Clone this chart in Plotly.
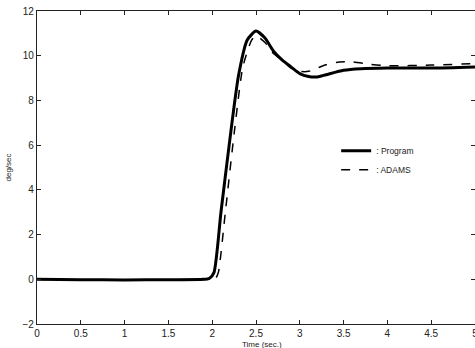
import plotly.graph_objects as go

# Program (solid)
t_prog = [0, 0.5, 1.0, 1.5, 1.9, 1.97, 2.02, 2.1, 2.2, 2.3, 2.4, 2.5, 2.6, 2.7, 2.8, 2.9,
          3.0, 3.1, 3.2, 3.3, 3.5, 3.7, 4.0, 4.5, 5.0]
y_prog = [0, -0.02, -0.03, -0.02, 0, 0.05, 0.3, 3.0, 6.2, 9.1, 10.7, 11.1, 10.8, 10.2, 9.8, 9.5,
          9.2, 9.07, 9.05, 9.15, 9.35, 9.42, 9.45, 9.45, 9.5]

# ADAMS (dashed)
t_adams = [0, 0.5, 1.0, 1.5, 2.0, 2.04, 2.07, 2.15, 2.25, 2.35, 2.45, 2.5, 2.6, 2.7, 2.8, 2.9,
           3.0, 3.1, 3.2, 3.3, 3.45, 3.6, 3.8, 4.0, 4.5, 5.0]
y_adams = [0, -0.02, -0.03, -0.02, 0, 0.05, 0.3, 3.0, 6.5, 9.5, 10.7, 10.9, 10.6, 10.1, 9.8, 9.45,
           9.3, 9.3, 9.45, 9.6, 9.72, 9.72, 9.62, 9.55, 9.58, 9.65]

x_ticks = [0, 0.5, 1, 1.5, 2, 2.5, 3, 3.5, 4, 4.5, 5]
x_labels = ["0", "0.5", "1", "1.5", "2", "2.5", "3", "3.5", "4", "4.5", "5"]
y_ticks = [-2, 0, 2, 4, 6, 8, 10, 12]

FONT = "Liberation Sans, Arial"
INK = "#222"

fig = go.Figure()
fig.add_trace(go.Scatter(x=t_prog, y=y_prog, mode="lines", name=": Program",
                         line=dict(color="black", width=3, shape="spline", smoothing=0.6)))
fig.add_trace(go.Scatter(x=t_adams, y=y_adams, mode="lines", name=": ADAMS",
                         line=dict(color="black", width=1.5, dash="dash", shape="spline", smoothing=0.6)))

axis_common = dict(showline=True, linecolor=INK, linewidth=1.2, mirror="ticks",
                   ticks="inside", ticklen=4, tickcolor=INK, showgrid=False, zeroline=False,
                   automargin=False, ticklabeloverflow="allow",
                   tickfont=dict(family=FONT, size=10, color=INK))

fig.update_xaxes(range=[0, 5], tickvals=x_ticks, ticktext=x_labels, **axis_common)
fig.update_yaxes(range=[-2, 12], tickvals=y_ticks, **axis_common)

fig.add_annotation(text="Time (sec.)", x=0.5, y=0, xref="paper", yref="paper",
                   xanchor="center", yanchor="top", yshift=-14, xshift=6, showarrow=False,
                   font=dict(family=FONT, size=8, color=INK))
fig.add_annotation(text="deg/sec", x=0, y=0.5, xref="paper", yref="paper",
                   xanchor="center", yanchor="middle", xshift=-29, textangle=-90, showarrow=False,
                   font=dict(family=FONT, size=8, color=INK))

fig.update_layout(
    width=475, height=348,
    margin=dict(l=37, r=0, t=11, b=24),
    paper_bgcolor="white", plot_bgcolor="white",
    showlegend=True,
    legend=dict(x=0.683, y=0.6, xanchor="left", yanchor="top", bgcolor="rgba(0,0,0,0)",
                font=dict(family=FONT, size=8.5, color=INK),
                itemwidth=30, tracegroupgap=2),
)

fig.write_html("out.html", config={"displayModeBar": False},
               post_script="document.body.style.margin='0';document.body.style.overflow='hidden';")
